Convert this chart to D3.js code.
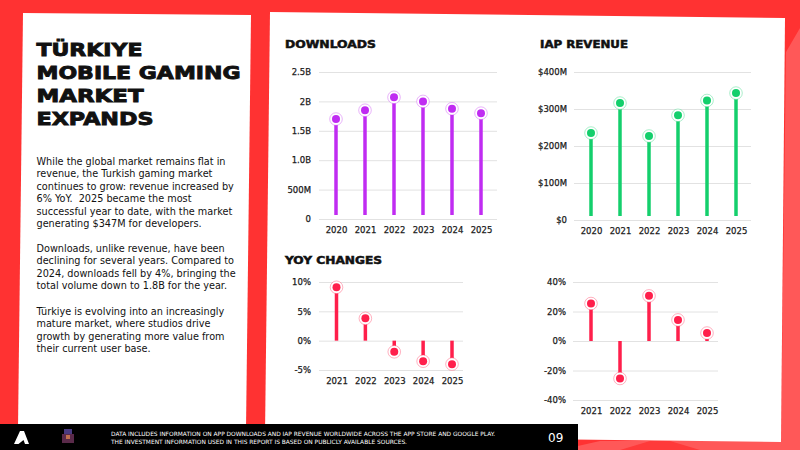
<!DOCTYPE html>
<html>
<head>
<meta charset="utf-8">
<script src="https://cdn.jsdelivr.net/npm/d3@7"></script>
<style>
  html, body { margin: 0; padding: 0; background: #ff3333; }
  svg { display: block; }
  text { white-space: pre; }
  .tick text { font-family: "DejaVu Sans", sans-serif; font-size: 8.5px; fill: #1a1a1a; stroke: #1a1a1a; stroke-width: 0.25px; }
  .grid .tick line { stroke: #e2e2e2; }
</style>
</head>
<body>
<div id="chart"></div>
<script>
// data
const years = ["2020", "2021", "2022", "2023", "2024", "2025"];
const downloads = [1.70, 1.85, 2.07, 2.00, 1.875, 1.80];      // billions
const revenue = [235, 316, 227, 283, 323, 343];               // $M
const yoyYears = ["2021", "2022", "2023", "2024", "2025"];
const downloadsYoy = [9.1, 3.8, -1.9, -3.5, -4.0];            // %
const revenueYoy = [25.4, -25.4, 30.6, 14.3, 5.4];            // %

const downloadTicks = [0, 0.5, 1.0, 1.5, 2.0, 2.5];
const downloadTickLabels = ["0", "500M", "1.0B", "1.5B", "2B", "2.5B"];
const revenueTicks = [0, 100, 200, 300, 400];
const revenueTickLabels = ["$0", "$100M", "$200M", "$300M", "$400M"];
const dlYoyTicks = [-5, 0, 5, 10];
const dlYoyTickLabels = ["-5%", "0%", "5%", "10%"];
const revYoyTicks = [-40, -20, 0, 20, 40];
const revYoyTickLabels = ["-40%", "-20%", "0%", "20%", "40%"];

const titleLines = ["TÜRKIYE", "MOBILE GAMING", "MARKET", "EXPANDS"];
const paragraphs = [
  ["While the global market remains flat in",
   "revenue, the Turkish gaming market",
   "continues to grow: revenue increased by",
   "6% YoY.  2025 became the most",
   "successful year to date, with the market",
   "generating $347M for developers."],
  ["Downloads, unlike revenue, have been",
   "declining for several years. Compared to",
   "2024, downloads fell by 4%, bringing the",
   "total volume down to 1.8B for the year."],
  ["Türkiye is evolving into an increasingly",
   "mature market, where studios drive",
   "growth by generating more value from",
   "their current user base."]
];
const footerLines = [
  "DATA INCLUDES INFORMATION ON APP DOWNLOADS AND IAP REVENUE WORLDWIDE ACROSS THE APP STORE AND GOOGLE PLAY.",
  "THE INVESTMENT INFORMATION USED IN THIS REPORT IS BASED ON PUBLICLY AVAILABLE SOURCES."
];

const width = 800, height = 450;
const svg = d3.select("#chart").append("svg")
  .attr("width", width).attr("height", height);

// background shapes
svg.append("rect").attr("width", width).attr("height", height).attr("fill", "#ff3232");
svg.append("polygon")
  .attr("points", "786,52 800,28 800,450 560,450 600,441 781,441")
  .attr("fill", "#ff5858");
svg.append("polygon")
  .attr("points", "620,450 660,438 700,450")
  .attr("fill", "#ff3a3a");

// panels
svg.append("polygon")
  .attr("points", "23,13 251,15 246,430 18,428")
  .attr("fill", "#fff");
svg.append("polygon")
  .attr("points", "270,12 785,18 781,442 265,436")
  .attr("fill", "#fff");

// headline
const head = svg.append("g").attr("font-family", "DejaVu Sans, sans-serif")
  .attr("font-weight", "bold").attr("font-size", 18).attr("fill", "#111")
  .attr("stroke", "#111").attr("stroke-width", 0.9);
const headWidths = [106, 204, 107, 117];
const headY = [56, 79, 102, 125];
titleLines.forEach((t, i) => {
  head.append("text").attr("x", 36.5).attr("y", headY[i])
    .attr("textLength", headWidths[i]).attr("lengthAdjust", "spacingAndGlyphs")
    .text(t);
});

// body text
const body = svg.append("g").attr("font-family", "DejaVu Sans, sans-serif")
  .attr("font-size", 9.7).attr("fill", "#111");
const paraStart = [165, 252, 315];
paragraphs.forEach((lines, p) => {
  lines.forEach((t, i) => {
    body.append("text").attr("x", 36.5).attr("y", paraStart[p] + i * 12.4).text(t);
  });
});

// chart titles
const chartTitles = [
  { text: "DOWNLOADS", x: 285, y: 48, w: 91 },
  { text: "IAP REVENUE", x: 540, y: 48, w: 88 },
  { text: "YOY CHANGES", x: 285, y: 264, w: 97 }
];
chartTitles.forEach(d => {
  svg.append("text").attr("x", d.x).attr("y", d.y)
    .attr("font-family", "DejaVu Sans, sans-serif").attr("font-weight", "bold")
    .attr("font-size", 10).attr("fill", "#111")
    .attr("stroke", "#111").attr("stroke-width", 0.5)
    .attr("textLength", d.w).attr("lengthAdjust", "spacingAndGlyphs")
    .text(d.text);
});

function lollipop(cfg) {
  const x = d3.scalePoint().domain(cfg.cats).range(cfg.xRange);
  const y = d3.scaleLinear().domain(cfg.yDomain).range(cfg.yRange);
  const g = svg.append("g");

  const grid = g.append("g").attr("class", "grid")
    .attr("transform", `translate(${cfg.gridX[0]},0)`)
    .call(d3.axisLeft(y).tickValues(cfg.ticks)
      .tickSize(-(cfg.gridX[1] - cfg.gridX[0]))
      .tickPadding(cfg.pad)
      .tickFormat((d, i) => cfg.labels[i]));
  grid.select(".domain").remove();

  const xa = g.append("g").attr("class", "xaxis")
    .attr("transform", `translate(0,${cfg.yRange[0]})`)
    .call(d3.axisBottom(x).tickSize(0).tickPadding(8));
  xa.select(".domain").remove();

  const base = y(0) - (cfg.gap || 0);
  g.selectAll(".stem").data(cfg.values).enter().append("line")
    .attr("x1", (d, i) => x(cfg.cats[i])).attr("x2", (d, i) => x(cfg.cats[i]))
    .attr("y1", base).attr("y2", d => y(d))
    .attr("stroke", cfg.color).attr("stroke-width", 3.5);

  g.selectAll(".halo").data(cfg.values).enter().append("circle")
    .attr("cx", (d, i) => x(cfg.cats[i])).attr("cy", d => y(d)).attr("r", 6.3)
    .attr("fill", "#fff").attr("stroke", cfg.color).attr("stroke-opacity", 0.35)
    .attr("stroke-width", 1);
  g.selectAll(".dot").data(cfg.values).enter().append("circle")
    .attr("cx", (d, i) => x(cfg.cats[i])).attr("cy", d => y(d)).attr("r", 4)
    .attr("fill", cfg.color);
}

lollipop({ cats: years, values: downloads, xRange: [336, 481], gridX: [319, 497],
  yDomain: [0, 2.5], yRange: [219, 72], ticks: downloadTicks, labels: downloadTickLabels,
  pad: 8, color: "#c02cf2", gap: 4 });
lollipop({ cats: years, values: revenue, xRange: [591, 736], gridX: [574, 751],
  yDomain: [0, 400], yRange: [220, 72], ticks: revenueTicks, labels: revenueTickLabels,
  pad: 7, color: "#14cf6c", gap: 4 });
lollipop({ cats: yoyYears, values: downloadsYoy, xRange: [336.5, 452], gridX: [319, 463],
  yDomain: [-5, 10], yRange: [370, 282], ticks: dlYoyTicks, labels: dlYoyTickLabels,
  pad: 8, color: "#ff1f4b" });
lollipop({ cats: yoyYears, values: revenueYoy, xRange: [591, 707], gridX: [573, 718],
  yDomain: [-40, 40], yRange: [400, 282], ticks: revYoyTicks, labels: revYoyTickLabels,
  pad: 7, color: "#ff1f4b" });

// footer bar
const foot = svg.append("g");
foot.append("rect").attr("x", 0).attr("y", 424).attr("width", 578).attr("height", 26).attr("fill", "#000");
foot.append("path")
  .attr("d", "M14,444 L20,431 L24,431 L29,444 L25,444 L23.5,440 L18.5,444 Z M21,438 L22.5,434 L23.5,438 Z")
  .attr("fill", "#fff");
// small character icon
foot.append("rect").attr("x", 64).attr("y", 429).attr("width", 8).attr("height", 5).attr("fill", "#4a3a80");
foot.append("rect").attr("x", 62).attr("y", 434).attr("width", 12).attr("height", 9).attr("fill", "#5a2a4a");
foot.append("rect").attr("x", 66).attr("y", 435).attr("width", 4).attr("height", 4).attr("fill", "#c07050");
footerLines.forEach((t, i) => {
  foot.append("text").attr("x", 111).attr("y", 436 + i * 7.5)
    .attr("font-family", "DejaVu Sans, sans-serif").attr("font-size", 5.9)
    .attr("fill", "#fff").text(t);
});
foot.append("text").attr("x", 548).attr("y", 441.5)
  .attr("font-family", "DejaVu Sans, sans-serif").attr("font-size", 12)
  .attr("fill", "#fff").text("09");
</script>
</body>
</html>
